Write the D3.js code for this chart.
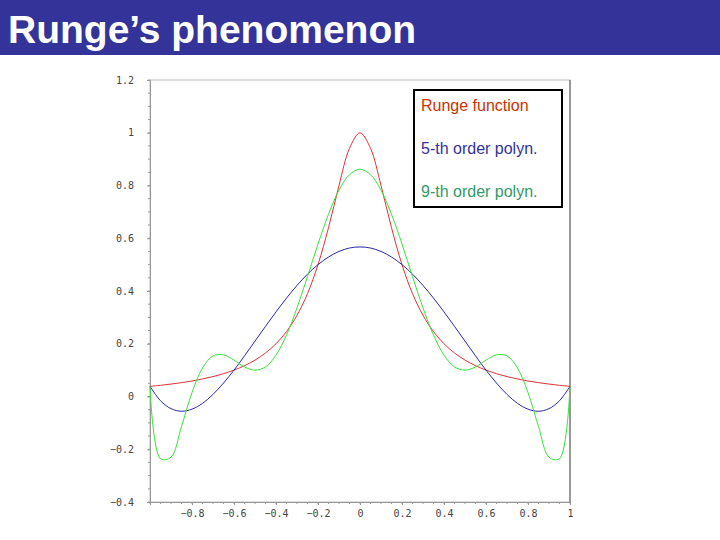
<!DOCTYPE html>
<html><head><meta charset="utf-8">
<script src="https://cdn.jsdelivr.net/npm/d3@7"></script>
<style>body{margin:0;background:#fff}</style>
</head><body>
<svg id="c" width="720" height="540"></svg>
<script>
const xs = [0,0.05,0.1,0.15,0.2,0.25,0.3,0.35,0.4,0.45,0.5,0.55,0.6,0.65,0.7,0.75,0.8,0.85,0.9,0.95,1];
const runge = [1,0.941,0.8,0.64,0.5,0.39,0.308,0.246,0.2,0.165,0.138,0.117,0.1,0.0865,0.0755,0.0664,0.0588,0.0525,0.0471,0.0424,0.0385];
const poly5 = [0.567,0.563,0.550,0.529,0.5,0.464,0.421,0.373,0.321,0.266,0.210,0.154,0.1,0.051,0.008,-0.026,-0.048,-0.056,-0.046,-0.016,0.0385];
const poly9 = [0.862,0.841,0.782,0.691,0.578,0.455,0.336,0.233,0.157,0.112,0.100,0.112,0.138,0.158,0.154,0.108,0.015,-0.114,-0.230,-0.236,0.0385];
const xTicks = [-0.8,-0.6,-0.4,-0.2,0,0.2,0.4,0.6,0.8,1];
const yTicks = [-0.4,-0.2,0,0.2,0.4,0.6,0.8,1,1.2];
const legendLabels = ["Runge function","5-th order polyn.","9-th order polyn."];
const colors = ["#dd3333","#2828a8","#3ce03c"];
const legendColors = ["#cc3300","#333399","#339966"];

const svg = d3.select("#c");
svg.append("rect").attr("x",0).attr("y",0).attr("width",720).attr("height",55).attr("fill","#333399");
svg.append("text").attr("x",8).attr("y",43).attr("fill","#fff").attr("font-family","Liberation Sans, Arial")
  .attr("font-weight","bold").attr("font-size",39).text("Runge’s phenomenon");

const x = d3.scaleLinear().domain([-1,1]).range([150,570]);
const y = d3.scaleLinear().domain([-0.4,1.2]).range([502,80]);

svg.append("rect").attr("x",x(-1)).attr("y",y(1.2)).attr("width",x(1)-x(-1)).attr("height",y(-0.4)-y(1.2))
  .attr("fill","none").attr("stroke","#bbb");
svg.append("line").attr("x1",x(1)).attr("x2",x(1)).attr("y1",y(1.2)).attr("y2",y(-0.4)).attr("stroke","#555");
const ax = svg.append("g").attr("transform",`translate(0,${y(-0.4)})`)
  .call(d3.axisBottom(x).tickValues(xTicks).tickSize(3).tickFormat(d=>d===0?"0":d3.format("")(d)));
const ay = svg.append("g").attr("transform",`translate(${x(-1)},0)`)
  .call(d3.axisLeft(y).tickValues(yTicks).tickSize(3).tickFormat(d=>d===0?"0":d3.format("")(d)));
[ax,ay].forEach(g=>{
  g.selectAll("path,line").attr("stroke","#999");
  g.selectAll("text").attr("font-family","DejaVu Sans Mono, monospace").attr("font-size",10).attr("fill","#444");
});
ay.selectAll("text").attr("x",-16);
ax.selectAll("text").attr("y",8);
const minorX = d3.range(-1,1.0001,0.05), minorY = d3.range(-0.4,1.2001,0.05);
svg.append("g").selectAll("line").data(minorX).join("line")
  .attr("x1",d=>x(d)).attr("x2",d=>x(d)).attr("y1",y(-0.4)).attr("y2",y(-0.4)+2).attr("stroke","#999");
svg.append("g").selectAll("line").data(minorY).join("line")
  .attr("y1",d=>y(d)).attr("y2",d=>y(d)).attr("x1",x(-1)).attr("x2",x(-1)-2).attr("stroke","#999");

const full = vals => {
  const pts = xs.map((v,i)=>[v,vals[i]]);
  const left = pts.slice(1).map(([a,b])=>[-a,b]).reverse();
  return left.concat(pts);
};
const line = d3.line().x(d=>x(d[0])).y(d=>y(d[1])).curve(d3.curveCatmullRom);
[runge,poly5,poly9].forEach((s,i)=>{
  svg.append("path").attr("d",line(full(s))).attr("fill","none").attr("stroke",colors[i]).attr("stroke-width",1);
});

svg.append("rect").attr("x",414).attr("y",90).attr("width",148).attr("height",117)
  .attr("fill","#fff").attr("stroke","#000").attr("stroke-width",2);
legendLabels.forEach((t,i)=>{
  svg.append("text").attr("x",421).attr("y",111+i*43).attr("font-family","Liberation Sans, Arial")
    .attr("font-size",16).attr("fill",legendColors[i]).text(t);
});
</script>
</body></html>
